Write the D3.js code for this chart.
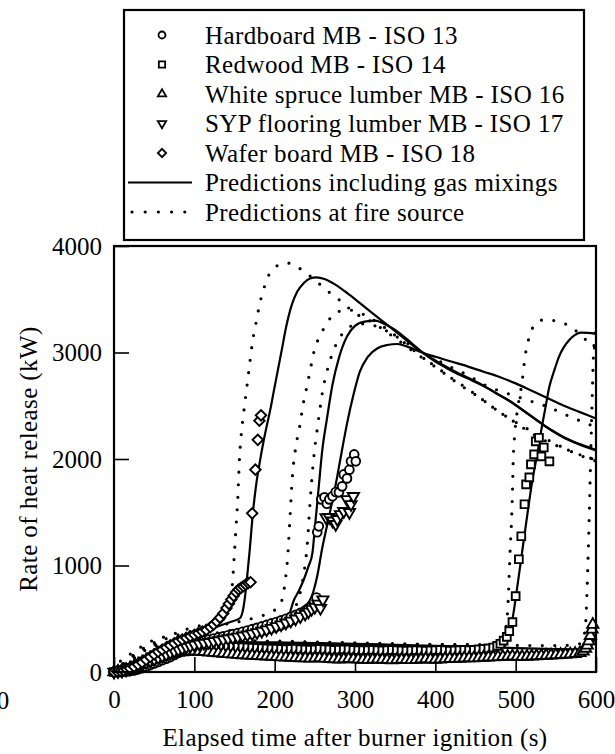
<!DOCTYPE html>
<html>
<head>
<meta charset="utf-8">
<script src="https://cdn.jsdelivr.net/npm/d3@7"></script>
<style>
  body { margin: 0; background: #fff; }
</style>
</head>
<body>
<div id="chart"></div>
<script>
// ---- data (time s, heat release kW) ----

const legendLabels = [
  "Hardboard MB - ISO 13",
  "Redwood MB - ISO 14",
  "White spruce lumber MB - ISO 16",
  "SYP flooring lumber MB - ISO 17",
  "Wafer board MB - ISO 18",
  "Predictions including gas mixings",
  "Predictions at fire source"
];

const xTicks = [0, 100, 200, 300, 400, 500, 600];
const yTicks = [0, 1000, 2000, 3000, 4000];

// measured: ISO 13 hardboard (circles)
const hardboardData = [
  [0,0],[4,0],[8,0],[12,5],[16,5],[20,10],[25,15],[30,25],[35,35],[40,50],[45,65],[50,80],
  [55,95],[60,110],[65,125],[70,140],[75,160],[80,180],[85,200],[90,220],[95,240],[100,260],
  [106,280],[112,295],[118,305],[124,315],[130,325],[136,335],[142,345],[148,355],[154,365],
  [160,378],[166,390],[172,402],[178,415],[184,428],[190,442],[196,456],[202,470],[208,485],
  [214,500],[220,518],[226,536],[232,555],[238,578],[242,600],[246,630],[249,665],[252,700],
  [253,1312],[255,1368],[258,1621],[262,1640],[265,1580],[268,1621],[272,1650],[276,1690],
  [280,1687],[284,1743],[286,1855],[290,1818],[293,1900],[295,1978],[299,2043],[301,1978]
];

// measured: ISO 14 redwood (squares)
const redwoodData = [
  [0,0],[5,5],[10,10],[15,25],[20,40],[25,60],[30,80],[35,100],[40,120],[45,140],[50,160],
  [55,178],[60,195],[65,208],[70,218],[75,225],[80,232],[85,238],[90,242],[95,245],[100,248],
  [106,250],[112,252],[118,250],[124,248],[130,245],[136,242],[142,240],[148,238],[154,235],
  [160,232],[166,230],[172,228],[178,226],[184,224],[190,222],[196,220],[202,218],[208,216],
  [214,214],[220,216],[226,218],[232,215],[238,212],[244,210],[250,213],[256,216],[262,214],
  [268,211],[274,208],[280,210],[286,213],[292,211],[298,208],[304,206],[310,204],[316,206],
  [322,208],[328,205],[334,202],[340,204],[346,207],[352,205],[358,202],[364,200],[370,202],
  [376,205],[382,203],[388,200],[394,202],[400,205],[406,207],[412,204],[418,201],[424,203],
  [430,206],[436,208],[442,205],[448,208],[454,212],[460,216],[466,222],[472,230],[477,245],
  [481,265],[485,295],[489,330],[492,384],[496,469],[500,712],[504,1059],[507,1275],[511,1575],
  [513,1762],[517,1828],[519,1950],[523,2043],[525,2165],[529,2200],[532,2024],[535,2108],[542,1978]
];

// measured: ISO 16 white spruce (triangles)
const spruceData = [
  [0,0],[5,5],[10,12],[15,22],[20,35],[25,50],[30,65],[35,80],[40,95],[45,110],[50,122],
  [55,135],[60,148],[65,158],[70,168],[75,176],[80,183],[85,188],[90,192],[95,194],[100,195],
  [106,193],[112,190],[118,186],[124,182],[130,178],[136,174],[142,170],[148,166],[154,163],
  [160,160],[166,158],[172,155],[178,153],[184,150],[190,148],[196,146],[202,143],[208,140],
  [214,138],[220,136],[226,134],[232,132],[238,130],[244,128],[250,130],[256,132],[262,128],
  [268,125],[274,122],[280,120],[286,122],[292,125],[298,122],[304,120],[310,118],[316,116],
  [322,118],[328,120],[334,117],[340,115],[346,113],[352,115],[358,118],[364,116],[370,114],
  [376,116],[382,120],[388,122],[394,120],[400,118],[406,120],[412,123],[418,126],[424,124],
  [430,127],[436,130],[442,132],[448,130],[454,133],[460,136],[466,138],[472,140],[478,142],
  [484,144],[490,146],[496,148],[502,146],[508,144],[514,146],[520,148],[526,150],[532,152],
  [538,155],[544,157],[550,160],[556,162],[562,165],[568,168],[574,172],[580,180],[584,195],
  [587,220],[589,250],[591,290],[593,340],[595,400],[596,445]
];

// measured: ISO 17 SYP flooring (inverted triangles)
const sypData = [
  [0,0],[5,5],[10,10],[15,20],[20,30],[25,45],[30,60],[35,75],[40,90],[45,105],[50,120],
  [55,135],[60,150],[65,165],[70,180],[75,195],[80,210],[85,222],[90,234],[95,245],[100,255],
  [106,265],[112,272],[118,280],[124,288],[130,296],[136,305],[142,314],[148,322],[154,330],
  [160,340],[166,350],[172,360],[178,372],[184,385],[190,398],[196,412],[202,428],[208,445],
  [214,462],[220,480],[226,500],[232,522],[238,545],[242,565],[246,590],[250,610],[254,640],
  [257,600],[260,680],[264,1450],[268,1453],[272,1420],[276,1387],[278,1434],[282,1480],
  [286,1509],[290,1621],[293,1500],[295,1574],[298,1650]
];

// measured: ISO 18 wafer board (diamonds)
const waferData = [
  [0,0],[4,5],[8,10],[12,15],[16,25],[20,35],[25,50],[30,70],[35,90],[40,115],[45,140],
  [50,165],[55,190],[60,210],[65,230],[70,250],[75,270],[80,290],[85,305],[90,320],[95,335],
  [100,350],[105,365],[110,380],[115,395],[120,420],[124,445],[128,475],[132,510],[136,550],
  [140,600],[143,640],[146,680],[149,715],[152,750],[155,775],[158,790],[161,805],[164,820],
  [167,835],[170,843],[172,1490],[176,1900],[179,2180],[181,2360],[183,2410]
];

// predictions including gas mixings (solid)
const predWafer = [
  [0,0],[10,20],[20,50],[30,90],[40,130],[50,170],[60,210],[70,245],[80,280],[90,310],[100,340],
  [110,370],[117,394],[130,430],[145,470],[157,507],[161,600],[163,700],[165,836],[169,1150],
  [173,1502],[177,1760],[181,1950],[186,2160],[191,2340],[195,2480],[199,2640],[204,2836],
  [209,3030],[214,3230],[221,3440],[228,3570],[236,3650],[244,3695],[252,3705],[262,3690],
  [275,3640],[290,3560],[305,3470],[320,3380],[335,3290],[350,3200],[365,3110],[380,3020],
  [395,2950],[410,2880],[425,2820],[440,2765],[455,2710],[475,2620],[496,2530],[512,2440],
  [529,2350],[545,2270],[560,2205],[580,2140],[600,2085]
];
const predHardboard = [
  [0,0],[10,15],[20,40],[30,70],[40,105],[50,140],[60,170],[70,200],[80,225],[90,245],[100,262],
  [120,290],[140,320],[160,350],[180,385],[200,430],[210,470],[218,540],[224,676],[230,760],
  [236,864],[242,990],[247,1117],[250,1350],[253,1587],[256,1830],[259,2065],[265,2375],
  [272,2700],[280,2950],[290,3150],[300,3250],[312,3290],[325,3300],[340,3255],[355,3185],
  [370,3090],[385,2995],[400,2915],[415,2850],[430,2790],[445,2740],[460,2685],[480,2600],
  [500,2505],[520,2400],[540,2290],[560,2200],[580,2135],[600,2080]
];
const predSyp = [
  [0,0],[10,10],[20,30],[30,55],[40,85],[50,115],[60,145],[70,170],[80,195],[90,215],[100,232],
  [120,260],[140,285],[160,310],[180,340],[200,380],[215,420],[228,480],[236,550],[241,620],
  [248,751],[253,901],[259,1155],[267,1437],[276,1760],[283,2050],[290,2330],[298,2600],
  [306,2820],[316,2960],[328,3040],[340,3070],[353,3080],[365,3055],[380,3010],[400,2960],
  [420,2915],[440,2870],[460,2820],[480,2770],[500,2710],[520,2640],[540,2570],[560,2500],
  [580,2440],[600,2380]
];
const predRedwood = [
  [0,0],[20,40],[40,110],[60,170],[80,220],[100,250],[150,268],[200,266],[250,262],[300,255],
  [350,248],[400,240],[450,232],[470,236],[480,255],[488,310],[496,497],[502,800],[508,1125],
  [514,1450],[521,1809],[527,2050],[532,2277],[537,2480],[542,2680],[548,2830],[554,2962],
  [560,3050],[567,3120],[574,3165],[581,3186],[590,3185],[600,3175]
];
const predSpruce = [
  [0,0],[20,40],[40,110],[60,170],[80,220],[100,255],[150,280],[200,278],[250,272],[300,265],
  [350,255],[400,245],[450,235],[500,225],[550,215],[580,212],[590,222],[595,255],[598,310],[600,380]
];

// predictions at fire source (dotted)
const fireWafer = [
  [0,0],[9,112],[25,187],[41,272],[58,318],[75,360],[91,403],[110,440],[125,470],[138,500],
  [143,560],[146,700],[148,892],[150,1127],[152,1370],[154,1615],[156,1972],[160,2347],
  [162,2470],[164,2592],[166,2714],[168,2836],[170,2958],[172,3080],[175,3211],[178,3324],
  [181,3446],[185,3560],[190,3680],[200,3800],[216,3840],[234,3775],[250,3680],[266,3577],
  [282,3484],[300,3370],[320,3290],[340,3190],[360,3080],[380,2970],[400,2870],[420,2760],
  [440,2660],[460,2550],[480,2440],[500,2340],[520,2240],[540,2160],[560,2100],[580,2040],[600,1990]
];
const fireHardboard = [
  [0,0],[10,60],[25,150],[40,240],[60,300],[80,350],[100,390],[120,420],[140,450],[160,480],
  [180,520],[195,560],[205,620],[210,700],[213,850],[216,1061],[219,1437],[222,1830],[226,2100],
  [231,2300],[236,2535],[240,2676],[246,2901],[250,3042],[256,3146],[265,3277],[278,3380],
  [290,3400],[300,3390],[315,3340],[330,3270],[350,3160],[370,3040],[390,2920],[410,2810],
  [430,2700],[455,2577],[480,2440],[505,2324],[530,2220],[556,2118],[575,2050],[600,1980]
];
const fireSyp = [
  [0,0],[10,50],[25,130],[40,210],[60,260],[80,300],[100,330],[130,370],[160,410],[190,450],
  [210,500],[225,600],[232,750],[235,864],[241,1239],[244,1587],[248,1962],[254,2338],
  [260,2650],[268,2900],[278,3100],[290,3220],[305,3270],[320,3260],[340,3200],[360,3110],
  [380,3020],[400,2940],[420,2860],[440,2790],[460,2700],[480,2640],[500,2590],[520,2540],
  [540,2490],[567,2400],[583,2350],[600,2300]
];
const fireRedwood = [
  [0,0],[10,70],[25,160],[40,230],[60,270],[80,285],[100,292],[150,290],[200,285],[250,278],
  [300,270],[350,262],[400,258],[450,256],[470,262],[480,285],[486,350],[490,580],[493,1117],
  [496,1680],[497,2000],[499,2244],[503,2500],[508,2723],[512,2977],[515,3090],[521,3230],
  [530,3300],[540,3310],[552,3290],[567,3250],[580,3170],[590,3100],[600,3030]
];
const fireSpruce = [
  [0,0],[10,70],[25,160],[40,230],[60,270],[80,290],[100,298],[150,295],[200,290],[250,282],
  [300,274],[350,266],[400,260],[450,255],[500,250],[550,248],[575,255],[583,285],[587,450],
  [589,800],[591,1300],[593,1900],[595,2500],[597,3000],[600,3250]
];

// ---- layout ----
const W = 615, H = 754;
const FONT = "'Liberation Serif', 'Times New Roman', Times, 'DejaVu Serif', serif";
const FONT_SIZE = "25px";
const plot = { left: 114, right: 596, top: 246, bottom: 672 };
const legendBox = { x: 124, y: 10, w: 460, h: 230 };

const svg = d3.select("#chart").append("svg")
  .attr("width", W)
  .attr("height", H);

const x = d3.scaleLinear().domain([0, 600]).range([plot.left, plot.right]);
const y = d3.scaleLinear().domain([0, 4000]).range([plot.bottom, plot.top]);

const triUp = d3.symbol().type(d3.symbolTriangle);
const sym = {
  circle: (s) => d3.symbol().type(d3.symbolCircle).size(s)(),
  square: (s) => d3.symbol().type(d3.symbolSquare).size(s)(),
  triUp: (s) => triUp.size(s)(),
  triDown: (s) => triUp.size(s)(),
  diamond: (s) => d3.symbol().type(d3.symbolSquare).size(s)()
};
const symRotate = { circle: 0, square: 0, triUp: 0, triDown: 180, diamond: 45 };
const symSize = { circle: 60, square: 60, triUp: 55, triDown: 55, diamond: 55 };

const measured = [
  { data: hardboardData, shape: "circle" },
  { data: redwoodData, shape: "square" },
  { data: spruceData, shape: "triUp" },
  { data: sypData, shape: "triDown" },
  { data: waferData, shape: "diamond" }
];
const solidPreds = [predWafer, predHardboard, predSyp, predRedwood, predSpruce];
const firePreds = [fireWafer, fireHardboard, fireSyp, fireRedwood, fireSpruce];

const line = d3.line()
  .x(d => x(d[0]))
  .y(d => y(d[1]))
  .curve(d3.curveMonotoneX);

// ---- axes ----
const gx = svg.append("g")
  .attr("transform", "translate(0," + plot.bottom + ")")
  .call(d3.axisBottom(x)
    .tickValues(xTicks)
    .tickSize(-15)
    .tickPadding(18)
    .tickFormat(d3.format("d")));
gx.select(".domain").remove();
gx.selectAll("line").attr("stroke", "#000").attr("stroke-width", 1.6);

const gy = svg.append("g")
  .attr("transform", "translate(" + plot.left + ",0)")
  .call(d3.axisLeft(y)
    .tickValues(yTicks)
    .tickSize(-15)
    .tickPadding(12)
    .tickFormat(d3.format("d")));
gy.select(".domain").remove();
gy.selectAll("line").attr("stroke", "#000").attr("stroke-width", 1.6);

// stray tick label of the neighbouring panel, cut by the page edge
svg.append("text")
  .attr("x", 3)
  .attr("y", plot.bottom + 37)
  .attr("text-anchor", "middle")
  .text("0");

svg.append("text")
  .attr("class", "title")
  .attr("x", (plot.left + plot.right) / 2)
  .attr("y", 746)
  .attr("text-anchor", "middle")
  .text("Elapsed time after burner ignition (s)");

svg.append("text")
  .attr("class", "title")
  .attr("transform", "translate(37," + ((plot.top + plot.bottom) / 2) + ") rotate(-90)")
  .attr("text-anchor", "middle")
  .text("Rate of heat release (kW)");

// ---- curves ----
const curves = svg.append("g").attr("fill", "none").attr("stroke", "#000");

curves.selectAll("path.fire")
  .data(firePreds)
  .join("path")
  .attr("class", "fire")
  .attr("d", line)
  .attr("stroke-width", 3.2)
  .attr("stroke-linecap", "round")
  .attr("stroke-dasharray", "0 12.5");

curves.selectAll("path.solid")
  .data(solidPreds)
  .join("path")
  .attr("class", "solid")
  .attr("d", line)
  .attr("stroke-width", 2.2);

// ---- measured markers ----
measured.forEach((s) => {
  svg.append("g")
    .selectAll("path")
    .data(s.data)
    .join("path")
    .attr("d", sym[s.shape](symSize[s.shape]))
    .attr("transform", d => "translate(" + x(d[0]) + "," + y(d[1]) + ") rotate(" + symRotate[s.shape] + ")")
    .attr("fill", "#fff")
    .attr("stroke", "#000")
    .attr("stroke-width", 1.9);
});

// ---- frame ----
svg.append("rect")
  .attr("x", plot.left)
  .attr("y", plot.top)
  .attr("width", plot.right - plot.left)
  .attr("height", plot.bottom - plot.top)
  .attr("fill", "none")
  .attr("stroke", "#000")
  .attr("stroke-width", 2.2);

// ---- legend ----
const legend = svg.append("g");
legend.append("rect")
  .attr("x", legendBox.x)
  .attr("y", legendBox.y)
  .attr("width", legendBox.w)
  .attr("height", legendBox.h)
  .attr("fill", "#fff")
  .attr("stroke", "#000")
  .attr("stroke-width", 2.2);

const rowY = (i) => 35 + i * 29.5;
const legendShapes = ["circle", "square", "triUp", "triDown", "diamond"];
const legendSize = { circle: 38, square: 40, triUp: 30, triDown: 30, diamond: 34 };

legendShapes.forEach((shape, i) => {
  legend.append("path")
    .attr("d", sym[shape](legendSize[shape]))
    .attr("transform", "translate(162," + rowY(i) + ") rotate(" + symRotate[shape] + ")")
    .attr("fill", "#fff")
    .attr("stroke", "#000")
    .attr("stroke-width", 1.8);
});

legend.append("line")
  .attr("x1", 128).attr("x2", 192)
  .attr("y1", rowY(5)).attr("y2", rowY(5))
  .attr("stroke", "#000").attr("stroke-width", 2.2);

legend.append("line")
  .attr("x1", 132).attr("x2", 190)
  .attr("y1", rowY(6)).attr("y2", rowY(6))
  .attr("stroke", "#000").attr("stroke-width", 3.2)
  .attr("stroke-linecap", "round")
  .attr("stroke-dasharray", "0 13.2");

legend.selectAll("text")
  .data(legendLabels)
  .join("text")
  .attr("class", "title")
  .attr("x", 205)
  .attr("y", (d, i) => rowY(i))
  .attr("dy", "0.35em")
  .text(d => d);

// one serif face everywhere, as in the printed figure
svg.selectAll("text")
  .style("font-family", FONT)
  .style("font-size", FONT_SIZE)
  .style("fill", "#000");
svg.selectAll("text.title").style("letter-spacing", "0.4px");
</script>
</body>
</html>
